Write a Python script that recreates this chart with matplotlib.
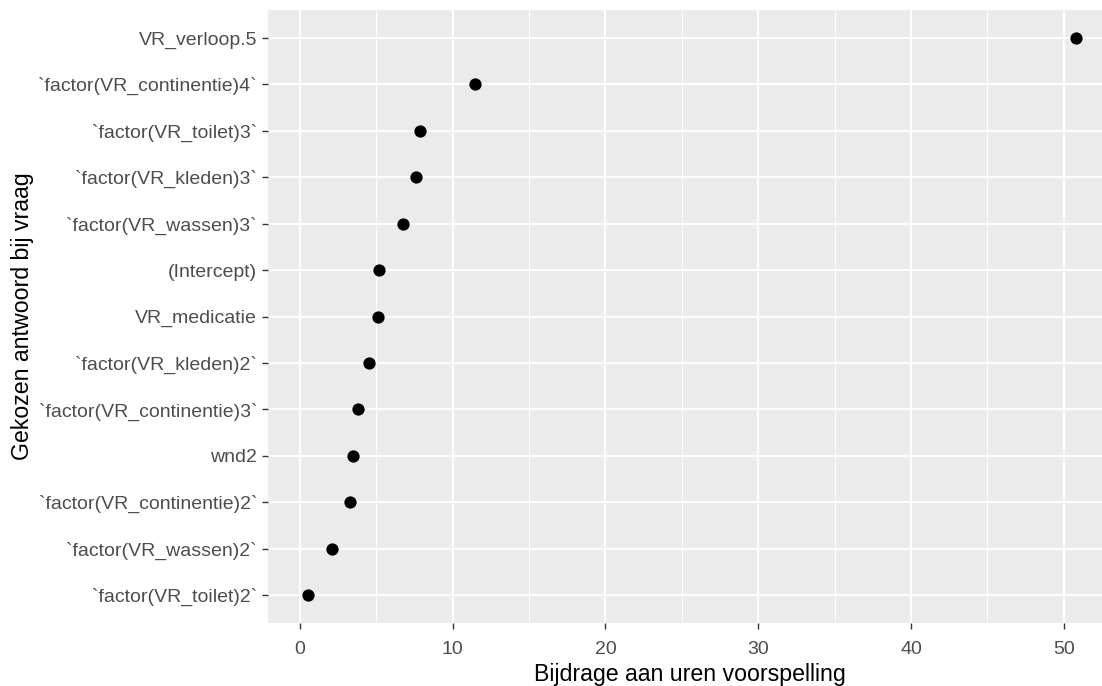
import matplotlib
matplotlib.use("Agg")
import matplotlib.pyplot as plt
from matplotlib.ticker import MultipleLocator

plt.rcParams['font.family'] = ['Liberation Sans', 'DejaVu Sans']

# labels from bottom to top
labels = [
    "`factor(VR_toilet)2`",
    "`factor(VR_wassen)2`",
    "`factor(VR_continentie)2`",
    "wnd2",
    "`factor(VR_continentie)3`",
    "`factor(VR_kleden)2`",
    "VR_medicatie",
    "(Intercept)",
    "`factor(VR_wassen)3`",
    "`factor(VR_kleden)3`",
    "`factor(VR_toilet)3`",
    "`factor(VR_continentie)4`",
    "VR_verloop.5",
]
values = [0.52, 2.1, 3.27, 3.47, 3.8, 4.52, 5.1, 5.17, 6.75, 7.6, 7.86, 11.46, 50.8]

fig = plt.figure(figsize=(11.02, 6.86), dpi=100)
ax = fig.add_axes([268/1102, 63/686, 1 - 268/1102, 613/686])
ax.set_facecolor("#EBEBEB")

y = list(range(1, len(labels) + 1))
ax.scatter(values, y, s=78, color="black", zorder=3, linewidths=0)

ax.set_xlim(-2.09, 52.5)
ax.set_ylim(0.4, len(labels) + 0.6)
ax.xaxis.set_major_locator(MultipleLocator(10))
ax.xaxis.set_minor_locator(MultipleLocator(5))
ax.set_yticks(y)
ax.set_yticklabels(labels)

ax.grid(which="major", color="white", linewidth=1.3, zorder=0)
ax.grid(which="minor", axis="x", color="white", linewidth=0.65, zorder=0)
ax.set_axisbelow(True)
for s in ax.spines.values():
    s.set_visible(False)

ax.tick_params(which="major", length=4.4, width=1.0, color="#333333",
               labelcolor="#4D4D4D", labelsize=14)
ax.tick_params(axis="y", pad=3.5)
ax.tick_params(axis="x", pad=8.5)
ax.tick_params(which="minor", length=0)

ax.set_xlabel("Bijdrage aan uren voorspelling", fontsize=16.7, color="black")
ax.set_ylabel("Gekozen antwoord bij vraag", fontsize=16.7, color="black")
ax.xaxis.set_label_coords(0.506, -0.0645)
ax.yaxis.set_label_coords(-0.280, 0.5)

fig.savefig("out.png", dpi=100)
